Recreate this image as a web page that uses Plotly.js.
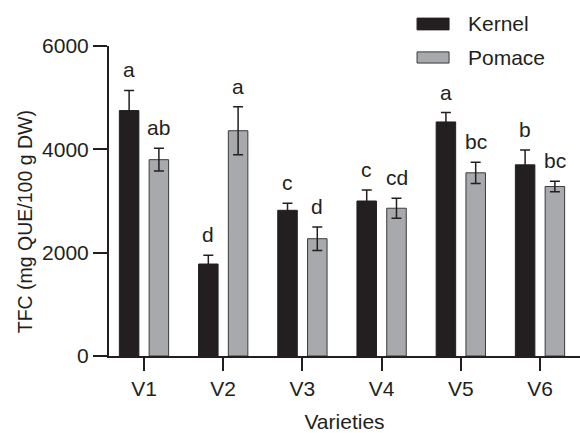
<!DOCTYPE html>
<html>
<head>
<meta charset="utf-8">
<script src="https://cdn.plot.ly/plotly-3.0.1.min.js"></script>
<style>html,body{margin:0;padding:0;background:#fff;}#chart{width:580px;height:433px;}</style>
</head>
<body>
<div id="chart"></div>
<script>
var categories = ["V1", "V2", "V3", "V4", "V5", "V6"];
var kernelValues = [4750, 1780, 2820, 3000, 4530, 3700];
var kernelErrors = [390, 170, 136, 214, 182, 285];
var pomaceValues = [3800, 4360, 2270, 2860, 3545, 3280];
var pomaceErrors = [220, 466, 226, 194, 207, 103];
var kernelLetters = ["a", "d", "c", "c", "a", "b"];
var pomaceLetters = ["ab", "a", "d", "cd", "bc", "bc"];
var seriesNames = ["Kernel", "Pomace"];
var xTitle = "Varieties";
var yTitle = "TFC (mg QUE/100 g DW)";

var dark = "#231f20";
var gray = "#a7a9ac";
var fontFam = "Liberation Sans, Arial, Helvetica, sans-serif";

var traces = [
  {
    type: "bar", name: seriesNames[0], x: categories, y: kernelValues,
    marker: {color: dark, line: {color: dark, width: 1}},
    error_y: {type: "data", array: kernelErrors, visible: true, color: dark, thickness: 1.5, width: 5},
    showlegend: false
  },
  {
    type: "bar", name: seriesNames[1], x: categories, y: pomaceValues,
    marker: {color: gray, line: {color: "#3a3a3c", width: 1}},
    error_y: {type: "data", array: pomaceErrors, visible: true, color: dark, thickness: 1.5, width: 5},
    showlegend: false
  }
];

var annotations = [];
categories.forEach(function (c, i) {
  annotations.push({
    x: c, y: kernelValues[i] + kernelErrors[i], xref: "x", yref: "y",
    text: kernelLetters[i], showarrow: false, xanchor: "center", yanchor: "bottom",
    xshift: -14.9, yshift: 7, font: {family: fontFam, size: 21, color: dark}
  });
  annotations.push({
    x: c, y: pomaceValues[i] + pomaceErrors[i], xref: "x", yref: "y",
    text: pomaceLetters[i], showarrow: false, xanchor: "center", yanchor: "bottom",
    xshift: 14.9, yshift: 7, font: {family: fontFam, size: 21, color: dark}
  });
});

// manual legend
var shapes = [
  {type: "rect", xref: "paper", yref: "paper", x0: 0.654, x1: 0.722, y0: 1.052, y1: 1.090,
   fillcolor: dark, line: {color: dark, width: 1}},
  {type: "rect", xref: "paper", yref: "paper", x0: 0.654, x1: 0.722, y0: 0.945, y1: 0.981,
   fillcolor: gray, line: {color: "#3a3a3c", width: 1}}
];
annotations.push({xref: "paper", yref: "paper", x: 0.758, y: 1.071, text: seriesNames[0],
  showarrow: false, xanchor: "left", yanchor: "middle", font: {family: fontFam, size: 21, color: dark}});
annotations.push({xref: "paper", yref: "paper", x: 0.758, y: 0.963, text: seriesNames[1],
  showarrow: false, xanchor: "left", yanchor: "middle", font: {family: fontFam, size: 21, color: dark}});

// y-axis title (placed as annotation to match its offset position)
annotations.push({xref: "paper", yref: "paper", x: -0.178, y: 0.432, text: yTitle, textangle: -90,
  showarrow: false, xanchor: "center", yanchor: "middle", font: {family: fontFam, size: 19.5, color: dark}});

var layout = {
  width: 580, height: 433,
  margin: {l: 109, r: 0, t: 46, b: 77, pad: 0},
  paper_bgcolor: "#fff", plot_bgcolor: "#fff",
  barmode: "group", bargap: 0.248, bargroupgap: 0.345,
  showlegend: false,
  font: {family: fontFam, color: dark, size: 21},
  xaxis: {
    type: "category", range: [-0.442, 5.505],
    showline: true, linecolor: dark, linewidth: 2,
    ticks: "outside", ticklen: 13, tickwidth: 2, tickcolor: dark,
    tickfont: {family: fontFam, size: 21, color: dark},
    showgrid: false, zeroline: false,
    title: {text: xTitle, font: {family: fontFam, size: 21, color: dark}, standoff: 17}
  },
  yaxis: {
    range: [0, 6000], dtick: 2000, tick0: 0,
    showline: true, linecolor: dark, linewidth: 2,
    ticks: "outside", ticklen: 14, tickwidth: 2, tickcolor: dark,
    tickfont: {family: fontFam, size: 21, color: dark},
    showgrid: false, zeroline: false
  },
  shapes: shapes,
  annotations: annotations
};

Plotly.newPlot("chart", traces, layout, {displayModeBar: false, staticPlot: true});
</script>
</body>
</html>
